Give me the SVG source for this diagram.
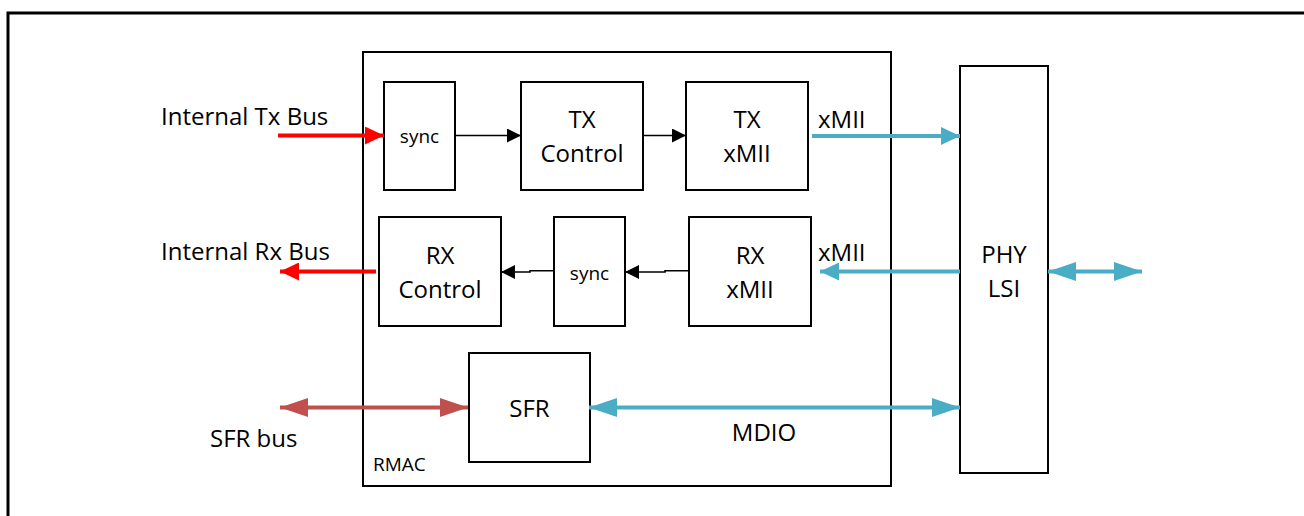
<svg xmlns="http://www.w3.org/2000/svg" width="1304" height="516" viewBox="0 0 1304 516">
  <style>
    .box { fill: #ffffff; stroke: #000000; stroke-width: 2; }
    .frame { fill: none; stroke: #000000; stroke-width: 3; }
    .lbl { font-family: "Open Sans", "Liberation Sans", sans-serif; font-size: 24px; fill: #000000; }
    .mid { text-anchor: middle; }
    .small { font-size: 19px; }
    .blk { stroke: #000000; stroke-width: 1.6; fill: none; }
    .red { stroke: #ff0000; stroke-width: 4; fill: none; }
    .brn { stroke: #c0504d; stroke-width: 4; fill: none; }
    .cyn { stroke: #4bacc6; stroke-width: 4; fill: none; }
  </style>
  <defs>
    <marker id="hBlack" viewBox="0 0 14 14" refX="14" refY="7" markerWidth="14" markerHeight="14" markerUnits="userSpaceOnUse" orient="auto-start-reverse">
      <path d="M0,0 L14,7 L0,14 Z" fill="#000000"/>
    </marker>
    <marker id="hRed" viewBox="0 0 19 18" refX="19" refY="9" markerWidth="19" markerHeight="18" markerUnits="userSpaceOnUse" orient="auto-start-reverse">
      <path d="M0,0 L19,9 L0,18 Z" fill="#ff0000"/>
    </marker>
    <marker id="hBrn" viewBox="0 0 28 19" refX="28" refY="9.5" markerWidth="28" markerHeight="19" markerUnits="userSpaceOnUse" orient="auto-start-reverse">
      <path d="M0,0 L28,9.5 L0,19 Z" fill="#c0504d"/>
    </marker>
    <marker id="hCyn" viewBox="0 0 28 19" refX="28" refY="9.5" markerWidth="28" markerHeight="19" markerUnits="userSpaceOnUse" orient="auto-start-reverse">
      <path d="M0,0 L28,9.5 L0,19 Z" fill="#4bacc6"/>
    </marker>
    <marker id="hCynS" viewBox="0 0 19 18" refX="19" refY="9" markerWidth="19" markerHeight="18" markerUnits="userSpaceOnUse" orient="auto-start-reverse">
      <path d="M0,0 L19,9 L0,18 Z" fill="#4bacc6"/>
    </marker>
  </defs>

  <rect width="1304" height="516" fill="#ffffff"/>

  <!-- outer page border (open at right and bottom) -->
  <path class="frame" d="M8,516 L8,13 L1304,13"/>

  <!-- RMAC container -->
  <g id="rmac">
    <rect class="box" x="363" y="52" width="528" height="434"/>
    <text class="lbl small" x="373" y="471">RMAC</text>
  </g>

  <g id="tx-sync">
    <rect class="box" x="384" y="82" width="71" height="108"/>
    <text class="lbl small mid" x="419.5" y="143">sync</text>
  </g>
  <g id="tx-control">
    <rect class="box" x="521" y="82" width="122" height="108"/>
    <text class="lbl mid" x="582" y="128">TX</text>
    <text class="lbl mid" x="582" y="162">Control</text>
  </g>
  <g id="tx-xmii">
    <rect class="box" x="686" y="82" width="122" height="108"/>
    <text class="lbl mid" x="747" y="128">TX</text>
    <text class="lbl mid" x="747" y="162">xMII</text>
  </g>

  <g id="rx-control">
    <rect class="box" x="379" y="217" width="122" height="109"/>
    <text class="lbl mid" x="440" y="264">RX</text>
    <text class="lbl mid" x="440" y="298">Control</text>
  </g>
  <g id="rx-sync">
    <rect class="box" x="554" y="217" width="71" height="109"/>
    <text class="lbl small mid" x="589.5" y="280">sync</text>
  </g>
  <g id="rx-xmii">
    <rect class="box" x="689" y="217" width="122" height="109"/>
    <text class="lbl mid" x="750" y="264">RX</text>
    <text class="lbl mid" x="750" y="298">xMII</text>
  </g>

  <g id="sfr">
    <rect class="box" x="469" y="353" width="121" height="109"/>
    <text class="lbl mid" x="529.5" y="417">SFR</text>
  </g>

  <g id="phy">
    <rect class="box" x="960" y="66" width="88" height="407"/>
    <text class="lbl mid" x="1004" y="263">PHY</text>
    <text class="lbl mid" x="1004" y="297">LSI</text>
  </g>

  <!-- external labels -->
  <g id="labels">
    <text class="lbl" x="161" y="125">Internal Tx Bus</text>
    <text class="lbl" x="161" y="260">Internal Rx Bus</text>
    <text class="lbl" x="210" y="447">SFR bus</text>
    <text class="lbl" x="818" y="128">xMII</text>
    <text class="lbl" x="818" y="261">xMII</text>
    <text class="lbl mid" x="764" y="441">MDIO</text>
  </g>

  <!-- connectors -->
  <g id="connectors">
    <line class="red" x1="278" y1="135.5" x2="384" y2="135.5" marker-end="url(#hRed)"/>
    <line class="blk" x1="455" y1="135.5" x2="521" y2="135.5" marker-end="url(#hBlack)"/>
    <line class="blk" x1="643" y1="135.5" x2="686" y2="135.5" marker-end="url(#hBlack)"/>
    <line class="cyn" x1="812" y1="136" x2="960" y2="136" marker-end="url(#hCynS)"/>

    <line class="cyn" x1="960" y1="271.5" x2="820" y2="271.5" marker-end="url(#hCynS)"/>
    <path class="blk" d="M689,270.8 L665,270.8 L665,272 L625,272" marker-end="url(#hBlack)"/>
    <path class="blk" d="M554,270.8 L530,270.8 L530,272 L501,272" marker-end="url(#hBlack)"/>
    <line class="red" x1="376" y1="271.5" x2="280" y2="271.5" marker-end="url(#hRed)"/>

    <line class="cyn" x1="1048" y1="271.5" x2="1142" y2="271.5" marker-start="url(#hCyn)" marker-end="url(#hCyn)"/>

    <line class="brn" x1="280" y1="407.5" x2="468" y2="407.5" marker-start="url(#hBrn)" marker-end="url(#hBrn)"/>
    <line class="cyn" x1="589" y1="407.5" x2="960" y2="407.5" marker-start="url(#hCyn)" marker-end="url(#hCyn)"/>
  </g>
</svg>
